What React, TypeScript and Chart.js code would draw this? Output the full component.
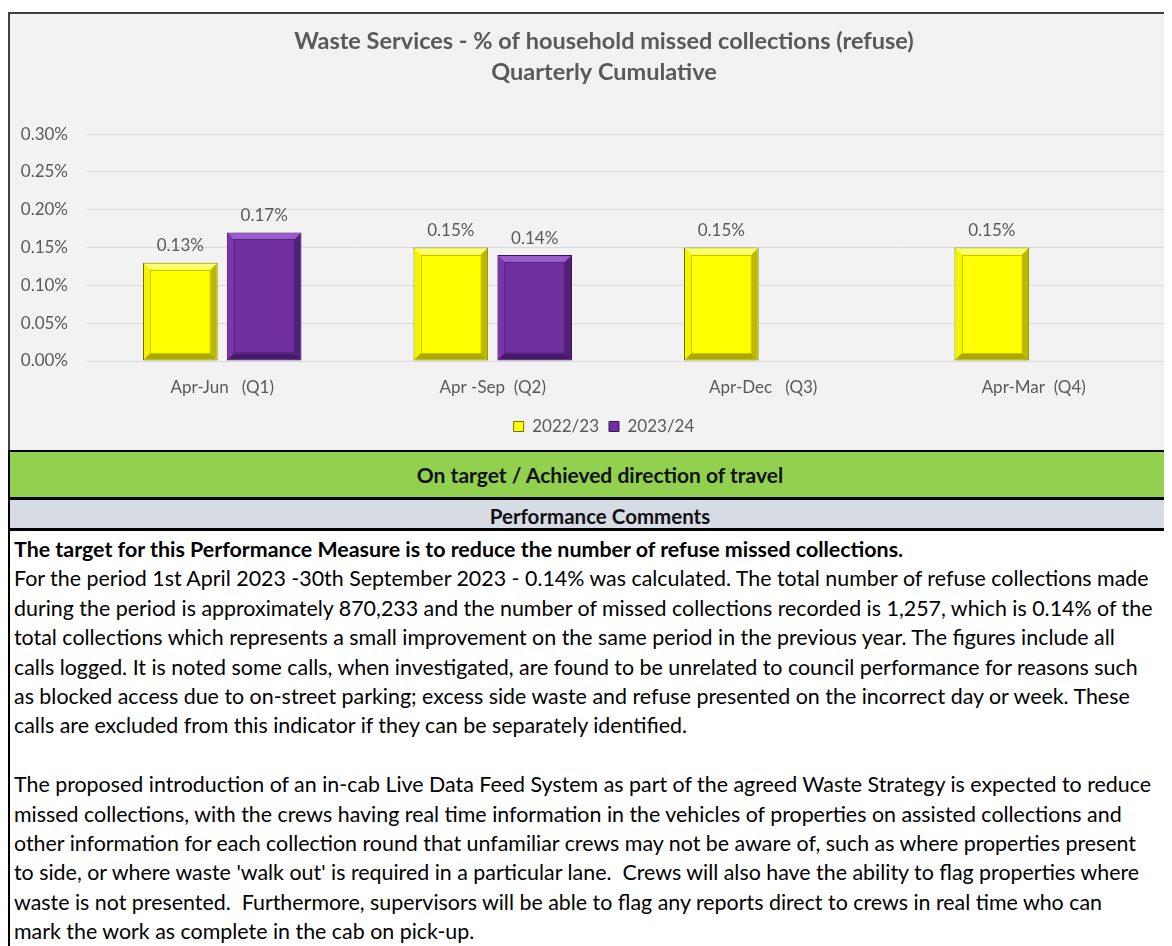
import React, { useEffect, useRef } from 'react';
import { Chart, registerables } from 'chart.js';

Chart.register(...registerables);

const FONT = "Lato, 'Liberation Sans', sans-serif";

const titleLines = ['Waste Services - % of household missed collections (refuse)', 'Quarterly Cumulative'];
const categories = ['Apr-Jun   (Q1)', 'Apr -Sep  (Q2)', 'Apr-Dec   (Q3)', 'Apr-Mar  (Q4)'];
const seriesNames = ['2022/23', '2023/24'];
const values2022 = [0.13, 0.15, 0.15, 0.15];
const values2023: (number | null)[] = [0.17, 0.14, null, null];
const yMax = 0.3;
const yStep = 0.05;

const statusText = 'On target / Achieved direction of travel';
const commentsHeader = 'Performance Comments';
const commentBold = 'The target for this Performance Measure is to reduce the number of refuse missed collections.';
const commentLines1 = [
  'For the period 1st April 2023 -30th September 2023 - 0.14% was calculated. The total number of refuse collections made',
  'during the period is approximately 870,233 and the number of missed collections recorded is 1,257, which is 0.14% of the',
  'total collections which represents a small improvement on the same period in the previous year. The figures include all',
  'calls logged. It is noted some calls, when investigated, are found to be unrelated to council performance for reasons such',
  'as blocked access due to on-street parking; excess side waste and refuse presented on the incorrect day or week. These',
  'calls are excluded from this indicator if they can be separately identified.',
];
const commentLines2 = [
  'The proposed introduction of an in-cab Live Data Feed System as part of the agreed Waste Strategy is expected to reduce',
  'missed collections, with the crews having real time information in the vehicles of properties on assisted collections and',
  'other information for each collection round that unfamiliar crews may not be aware of, such as where properties present',
  "to side, or where waste 'walk out' is required in a particular lane.  Crews will also have the ability to flag properties where",
  'waste is not presented.  Furthermore, supervisors will be able to flag any reports direct to crews in real time who can',
  'mark the work as complete in the cab on pick-up.',
];

const palettes = [
  { fill: '#ffff00', outline: '#707000', top: '#ffff70', left: '#f4f400', right: '#b9b900', bottom: '#a9a900', inner: '#c4c400' },
  { fill: '#7030a0', outline: '#3a1558', top: '#9a5ccc', left: '#7836aa', right: '#4f2075', bottom: '#461a6a', inner: '#56247f' },
];

function poly(ctx: CanvasRenderingContext2D, pts: number[][], color: string) {
  ctx.beginPath();
  ctx.moveTo(pts[0][0], pts[0][1]);
  for (let i = 1; i < pts.length; i++) ctx.lineTo(pts[i][0], pts[i][1]);
  ctx.closePath();
  ctx.fillStyle = color;
  ctx.fill();
}

export default function App() {
  const ref = useRef<HTMLCanvasElement>(null);

  useEffect(() => {
    if (!ref.current) return;
    const bevelPlugin = {
      id: 'bevelLabels',
      afterDatasetsDraw(chart: any) {
        const ctx: CanvasRenderingContext2D = chart.ctx;
        ctx.save();
        chart.data.datasets.forEach((ds: any, di: number) => {
          const meta = chart.getDatasetMeta(di);
          const p = palettes[di];
          meta.data.forEach((el: any, i: number) => {
            const v = ds.data[i];
            if (v == null) return;
            const { x, y, base, width } = el.getProps(['x', 'y', 'base', 'width'], true);
            const l = x - width / 2 + 1;
            const r = x + width / 2 - 1;
            const t = y + 1;
            const b = base - 1;
            const d = 6;
            poly(ctx, [[l, t], [r, t], [r - d, t + d], [l + d, t + d]], p.top);
            poly(ctx, [[l, t], [l + d, t + d], [l + d, b - d], [l, b]], p.left);
            poly(ctx, [[r, t], [r, b], [r - d, b - d], [r - d, t + d]], p.right);
            poly(ctx, [[l, b], [r, b], [r - d, b - d], [l + d, b - d]], p.bottom);
            ctx.strokeStyle = p.inner;
            ctx.lineWidth = 1;
            ctx.strokeRect(Math.round(l + d) + 0.5, Math.round(t + d) + 0.5, r - l - 2 * d - 1, b - t - 2 * d - 1);
            ctx.fillStyle = '#595959';
            ctx.font = `17px ${FONT}`;
            ctx.textAlign = 'center';
            ctx.textBaseline = 'middle';
            ctx.fillText(v.toFixed(2) + '%', x, y - 17);
          });
        });
        ctx.restore();
      },
    };

    const chart = new Chart(ref.current, {
      type: 'bar',
      data: {
        labels: categories,
        datasets: [
          {
            label: seriesNames[0],
            data: values2022,
            backgroundColor: palettes[0].fill,
            borderColor: palettes[0].outline,
            borderWidth: 1,
            borderSkipped: false,
            categoryPercentage: 0.62,
            barPercentage: 0.89,
          },
          {
            label: seriesNames[1],
            data: values2023,
            backgroundColor: palettes[1].fill,
            borderColor: palettes[1].outline,
            borderWidth: 1,
            borderSkipped: false,
            categoryPercentage: 0.62,
            barPercentage: 0.89,
          },
        ],
      },
      options: {
        animation: false,
        responsive: true,
        maintainAspectRatio: false,
        layout: { padding: { left: 0, right: 0, top: 0, bottom: 5 } },
        plugins: {
          title: {
            display: true,
            text: titleLines,
            color: '#595959',
            font: { family: FONT, size: 23.5, weight: 'bold', lineHeight: 1.32 },
            padding: { top: 12, bottom: 46 },
          },
          legend: {
            position: 'bottom',
            labels: {
              boxWidth: 10,
              boxHeight: 10,
              padding: 10,
              color: '#595959',
              font: { family: FONT, size: 17 },
            },
          },
          tooltip: { enabled: false },
        },
        scales: {
          x: {
            grid: { display: false, drawTicks: false },
            border: { display: false },
            ticks: { color: '#595959', font: { family: FONT, size: 17 }, padding: 16 },
            afterFit: (s: any) => {
              s.height = 47;
            },
          },
          y: {
            min: 0,
            max: yMax,
            ticks: {
              stepSize: yStep,
              color: '#595959',
              font: { family: FONT, size: 17 },
              padding: 19,
              callback: (v: any) => Number(v).toFixed(2) + '%',
            },
            grid: { color: '#d9d9d9', drawTicks: false },
            border: { display: false },
            afterFit: (s: any) => {
              s.width = 77;
            },
          },
          spacer: {
            type: 'linear',
            position: 'right',
            display: true,
            ticks: { display: false },
            grid: { display: false, drawTicks: false },
            border: { display: false },
            afterFit: (s: any) => {
              s.width = 29;
            },
          },
        },
      },
      plugins: [bevelPlugin],
    });
    return () => chart.destroy();
  }, []);

  const textLine: React.CSSProperties = { whiteSpace: 'pre', height: 29.4, lineHeight: '29.4px' };

  return (
    <div style={{ width: 1164, height: 938, overflow: 'hidden', fontFamily: FONT }}>
      <div style={{ width: 1192, paddingTop: 4 }}>
        <div
          style={{
            height: 438,
            boxSizing: 'border-box',
            borderTop: '2px solid #404040',
            borderLeft: '2px solid #404040',
            borderRight: '2px solid #404040',
            background: '#f2f2f2',
          }}
        >
          <div style={{ position: 'relative', height: 436, width: 1188 }}>
            <canvas ref={ref} />
          </div>
        </div>
        <div
          style={{
            height: 50,
            boxSizing: 'border-box',
            borderTop: '2px solid #000',
            borderBottom: '3px solid #000',
            borderLeft: '2px solid #000',
            background: '#92d050',
            display: 'flex',
            alignItems: 'center',
            justifyContent: 'center',
            fontWeight: 'bold',
            fontSize: 21,
            color: '#111',
            paddingRight: 10,
          }}
        >
          {statusText}
        </div>
        <div
          style={{
            height: 31,
            boxSizing: 'border-box',
            borderBottom: '3px solid #000',
            borderLeft: '2px solid #000',
            background: '#d6dce4',
            display: 'flex',
            alignItems: 'center',
            justifyContent: 'center',
            fontWeight: 'bold',
            fontSize: 20.5,
            color: '#111',
            paddingRight: 10,
            paddingTop: 3,
          }}
        >
          {commentsHeader}
        </div>
        <div
          style={{
            borderLeft: '2px solid #000',
            paddingLeft: 4,
            paddingTop: 4,
            fontSize: 21.4,
            color: '#000',
            background: '#fff',
            height: 420,
          }}
        >
          <div style={{ ...textLine, fontWeight: 'bold' }}>{commentBold}</div>
          {commentLines1.map((s, i) => (
            <div key={'a' + i} style={textLine}>{s}</div>
          ))}
          <div style={textLine}>{' '}</div>
          {commentLines2.map((s, i) => (
            <div key={'b' + i} style={textLine}>{s}</div>
          ))}
        </div>
      </div>
    </div>
  );
}
